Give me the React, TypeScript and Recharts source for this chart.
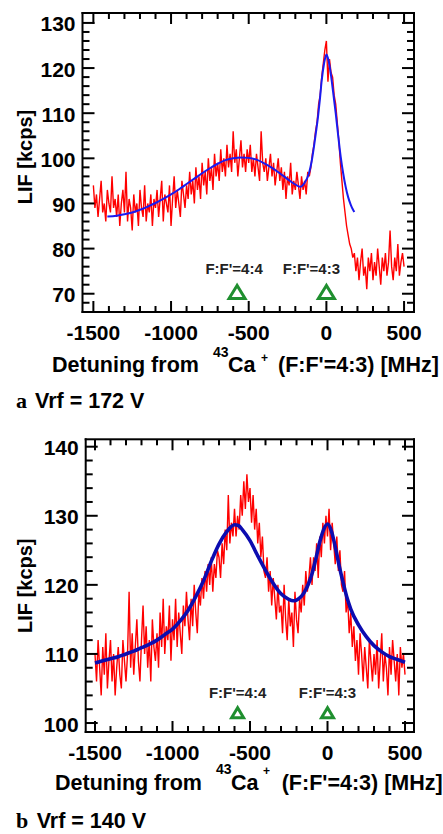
import React from 'react';
import { ComposedChart, Line, Scatter, XAxis, YAxis, Label } from 'recharts';

const FONT = '"Liberation Sans", Arial, Helvetica, sans-serif';

// ---------- tick values ----------
const X_TICKS_MAJOR = [-1500, -1000, -500, 0, 500];
const X_TICKS_ALL = [
  -1500, -1400, -1300, -1200, -1100, -1000, -900, -800, -700, -600, -500,
  -400, -300, -200, -100, 0, 100, 200, 300, 400, 500,
];
const Y_TICKS_MAJOR_A = [70, 80, 90, 100, 110, 120, 130];
const Y_TICKS_ALL_A = [
  68, 70, 72, 74, 76, 78, 80, 82, 84, 86, 88, 90, 92, 94, 96, 98, 100, 102, 104,
  106, 108, 110, 112, 114, 116, 118, 120, 122, 124, 126, 128, 130,
];
const Y_TICKS_MAJOR_B = [100, 110, 120, 130, 140];
const Y_TICKS_ALL_B = [
  100, 102, 104, 106, 108, 110, 112, 114, 116, 118, 120, 122, 124, 126, 128,
  130, 132, 134, 136, 138, 140,
];

// ---------- panel a (Vrf = 172 V) ----------
const RED_A_START = -1500;
const RED_STEP = 10;
const RED_A = [
  94, 89, 92, 87, 91, 95, 88, 90, 86, 93, 90, 88, 96, 89, 91, 87, 92, 85, 90, 93,
  88, 97, 86, 91, 89, 84, 92, 88, 90, 85, 93, 89, 87, 94, 86, 90, 88, 92, 85, 91,
  89, 93, 87, 91, 95, 86, 92, 90, 88, 94, 85, 91, 96, 89, 93, 90, 87, 95, 92, 89,
  94, 91, 97, 92, 95, 90, 98, 93, 96, 91, 99, 94, 97, 92, 100, 95, 98, 93, 101, 96,
  99, 95, 102, 97, 100, 96, 103, 98, 101, 97, 106, 99, 102, 96, 100, 104, 98, 101, 97, 102,
  99, 103, 97, 100, 96, 101, 98, 95, 106, 99, 97, 100, 95, 98, 101, 96, 99, 94, 97, 100,
  95, 98, 93, 97, 91, 96, 94, 99, 92, 95, 93, 97, 94, 91, 96, 93, 95, 92, 97, 96,
  98, 101, 103, 106, 108, 112, 114, 118, 121, 124, 126, 117, 122, 119, 118, 114, 112, 108, 104, 99,
  95, 91, 88, 85, 83, 81, 80, 78, 79, 75, 78, 73, 77, 80, 74, 76, 71, 78, 75, 79,
  73, 77, 74, 80, 76, 72, 78, 75, 79, 74, 77, 84, 76, 73, 78, 75, 81, 74, 77, 79,
  76,
];
const FIT_A_X = [
  -1410, -1350, -1300, -1250, -1200, -1150, -1100, -1050, -1000, -950, -900, -850,
  -800, -750, -700, -650, -600, -550, -500, -450, -400, -350, -300, -250, -200,
  -170, -140, -112, -95, -80, -67, -54, -42, -30, -15, 0, 10, 20, 28, 44, 60, 76,
  92, 108, 124, 140, 157, 170, 180,
];
const FIT_A_Y = [
  87.1, 87.3, 87.6, 88.0, 88.6, 89.3, 90.1, 91.0, 92.0, 93.1, 94.3, 95.5,
  96.7, 97.8, 98.8, 99.6, 100.0, 100.2, 100.1, 99.7, 98.9, 97.9, 96.7, 95.4, 94.2,
  93.7, 94.6, 96.7, 99.3, 102.6, 105.8, 109.2, 113.0, 117.3, 121.0, 123.0, 122.2, 120.6, 118.8, 114.5, 110.0, 105.0,
  100.4, 96.7, 93.7, 91.4, 89.7, 88.7, 88.1,
];
const LINES_A_X = [-575, 0];
const LINES_A_Y = [70.4, 70.4];

// ---------- panel b (Vrf = 140 V) ----------
const RED_B_START = -1500;
const RED_B = [
  110, 106, 112, 108, 104, 111, 107, 113, 105, 109, 112, 106, 110, 104, 108, 111, 107, 105, 112, 109,
  106, 110, 119, 108, 113, 107, 111, 115, 109, 106, 112, 117, 110, 114, 108, 112, 106, 115, 111, 109,
  113, 108, 116, 111, 118, 110, 114, 112, 117, 109, 115, 112, 118, 111, 116, 113, 110, 117, 114, 119,
  115, 112, 118, 114, 120, 116, 113, 119, 117, 121, 118, 122, 119, 123, 120, 124, 119, 123, 121, 125,
  124, 121, 126, 123, 128, 125, 133, 126, 129, 127, 131, 127, 130, 128, 133, 130, 135, 131, 136, 132,
  134, 129, 133, 128, 131, 126, 129, 124, 127, 122, 121, 124, 119, 122, 117, 121, 118, 115, 120, 116,
  117, 113, 120, 115, 112, 118, 114, 116, 111, 119, 115, 113, 118, 116, 120, 117, 122, 119, 121, 124,
  120, 124, 122, 126, 121, 127, 124, 129, 126, 130, 127, 131, 125, 129, 126, 123, 127, 122, 125, 120,
  119, 122, 116, 118, 113, 116, 111, 114, 109, 112, 107, 113, 110, 106, 111, 108, 105, 112, 109, 106,
  110, 107, 112, 105, 109, 113, 106, 110, 108, 104, 111, 107, 112, 109, 106, 110, 104, 111, 108, 110,
  107,
];
const FIT_B_X = [
  -1500, -1450, -1400, -1350, -1300, -1250, -1200, -1150, -1100, -1050, -1000,
  -950, -900, -850, -800, -750, -700, -650, -600, -575, -550, -500, -450, -400,
  -350, -300, -250, -220, -200, -150, -100, -75, -50, -25, 0, 25, 50, 75, 100,
  125, 150, 200, 250, 300, 350, 400, 450, 500,
];
const FIT_B_Y = [
  108.7, 109.0, 109.3, 109.6, 110.0, 110.4, 110.9, 111.4, 112.0, 112.8, 113.6,
  114.8, 116.3, 118.3, 120.6, 123.4, 125.9, 127.7, 128.7, 128.6, 128.0, 126.4, 124.2, 122.1,
  120.2, 118.7, 117.9, 117.7, 117.8, 118.9, 121.6, 123.8, 126.2, 128.0, 128.8, 127.8, 125.5, 122.8, 120.4,
  118.2, 116.5, 114.2, 112.5, 111.2, 110.3, 109.6, 109.2, 108.8,
];
const LINES_B_X = [-580, 0];
const LINES_B_Y = [101.5, 101.5];

const LINE_LABELS = ["F:F'=4:4", "F:F'=4:3"];

// ---------- helpers ----------
type Pt = { x: number; y: number; label?: string };
type FrameMark = { x: number; y: number; kind: 'b' | 't' | 'l' | 'r' | 'box'; major: boolean };
const gridSeries = (start: number, step: number, ys: number[]): Pt[] =>
  ys.map((y, i) => ({ x: start + i * step, y }));
const pairSeries = (xs: number[], ys: number[], labels?: string[]): Pt[] =>
  xs.map((x, i) => ({ x, y: ys[i], label: labels ? labels[i] : undefined }));

const CHART_W = 443;
const MARGIN_RIGHT = 29;
const X_AXIS_H = 68;
const INK = '#000';
const T = 2; // frame / tick thickness (px)

// Anchors for the box and the inward ticks on all four sides (placed through the chart scales).
const buildFrameMarks = (xd: [number, number], yd: [number, number], yTicks: number[], yMajors: number[]): FrameMark[] => {
  const [x0, x1] = xd;
  const [y0, y1] = yd;
  const out: FrameMark[] = [{ x: x0, y: y1, kind: 'box', major: true }];
  X_TICKS_ALL.forEach((v) => {
    const m = X_TICKS_MAJOR.includes(v);
    out.push({ x: v, y: y0, kind: 'b', major: m }, { x: v, y: y1, kind: 't', major: m });
  });
  yTicks.forEach((v) => {
    const m = yMajors.includes(v);
    out.push({ x: x0, y: v, kind: 'l', major: m }, { x: x1, y: v, kind: 'r', major: m });
  });
  return out;
};

const makeFrameShape = (plotW: number, plotH: number) => (props: any) => {
  const cx = Number(props.cx);
  const cy = Number(props.cy);
  const p = props.payload as FrameMark;
  if (!p || !isFinite(cx) || !isFinite(cy)) return <g />;
  const h = T / 2;
  if (p.kind === 'box') {
    return (
      <g fill={INK}>
        <rect x={cx - h} y={cy - h} width={plotW + T} height={T} />
        <rect x={cx - h} y={cy + plotH - h} width={plotW + T} height={T} />
        <rect x={cx - h} y={cy - h} width={T} height={plotH + T} />
        <rect x={cx + plotW - h} y={cy - h} width={T} height={plotH + T} />
      </g>
    );
  }
  const xl = p.major ? 11 : 6;
  const yl = p.major ? 12 : 7;
  if (p.kind === 'b') return <rect x={cx - h} y={cy - xl} width={T} height={xl} fill={INK} />;
  if (p.kind === 't') return <rect x={cx - h} y={cy} width={T} height={xl} fill={INK} />;
  if (p.kind === 'l') return <rect x={cx} y={cy - h} width={yl} height={T} fill={INK} />;
  return <rect x={cx - yl} y={cy - h} width={yl} height={T} fill={INK} />;
};

const xTickLabel = (props: any) => {
  const x = Number(props.x);
  const y = Number(props.y);
  const v = props.payload.value;
  if (!X_TICKS_MAJOR.includes(v)) return <g />;
  return (
    <text x={x} y={y + 20} textAnchor="middle" dominantBaseline="central"
      fontFamily={FONT} fontWeight="bold" fontSize={21} fill="#000">{v}</text>
  );
};

const makeYTickLabel = (majors: number[]) => (props: any) => {
  const x = Number(props.x);
  const y = Number(props.y);
  const v = props.payload.value;
  if (!majors.includes(v)) return <g />;
  return (
    <text x={x - 7} y={y + 1} textAnchor="end" dominantBaseline="central"
      fontFamily={FONT} fontWeight="bold" fontSize={21} fill="#000">{v}</text>
  );
};

const makeMarker = (w: number, h: number, labelDy: number, labelDx: Record<string, number>) =>
  (props: any) => {
    const cx = Number(props.cx);
    const cy = Number(props.cy);
    if (!isFinite(cx) || !isFinite(cy)) return <g />;
    const lab = props.payload && props.payload.label ? props.payload.label : '';
    const dx = labelDx[lab] || 0;
    return (
      <g>
        <polygon
          points={`${cx},${cy - h / 2} ${cx - w / 2},${cy + h / 2} ${cx + w / 2},${cy + h / 2}`}
          fill="#fff" stroke="#1f8f2f" strokeWidth={3} />
        <text x={cx + dx} y={cy + labelDy} textAnchor="middle" dominantBaseline="central"
          fontFamily={FONT} fontWeight="bold" fontSize={15} fill="#222">{lab}</text>
      </g>
    );
  };

type PanelCfg = {
  top: number;
  height: number;
  plotTop: number;
  yAxisWidth: number;
  xDomain: [number, number];
  yDomain: [number, number];
  yTicks: number[];
  yMajors: number[];
  red: Pt[];
  fit: Pt[];
  marks: Pt[];
  fitColor: string;
  fitWidth: number;
  marker: (p: any) => any;
  xTitle: { x0: number; base: number; supX: number; supBase: number; caX: number; plusX: number; plusBase: number; restX: number };
  yTitle: { cx: number; cy: number };
};

const XTitle = ({ t }: { t: PanelCfg['xTitle'] }) => (
  <g fontFamily={FONT} fontWeight="bold" fill="#000">
    <text x={t.x0} y={t.base} fontSize={21.5}>Detuning from</text>
    <text x={t.supX} y={t.supBase} fontSize={14}>43</text>
    <text x={t.caX} y={t.base} fontSize={21.5}>Ca</text>
    <text x={t.plusX} y={t.plusBase} fontSize={12}>+</text>
    <text x={t.restX} y={t.base} fontSize={21.5}>(F:F'=4:3) [MHz]</text>
  </g>
);

const YTitle = ({ t }: { t: PanelCfg['yTitle'] }) => (
  <text x={t.cx} y={t.cy} transform={`rotate(-90 ${t.cx} ${t.cy})`} textAnchor="middle"
    dominantBaseline="central" fontFamily={FONT} fontWeight="bold" fontSize={20} fill="#000">
    LIF [kcps]
  </text>
);

const Panel = ({ cfg }: { cfg: PanelCfg }) => {
  const plotW = CHART_W - MARGIN_RIGHT - cfg.yAxisWidth;
  const plotH = cfg.height - X_AXIS_H - cfg.plotTop;
  const frameMarks = buildFrameMarks(cfg.xDomain, cfg.yDomain, cfg.yTicks, cfg.yMajors);
  const frameShape = makeFrameShape(plotW, plotH);

  return (
    <div style={{ position: 'absolute', left: 0, top: cfg.top, width: CHART_W, height: cfg.height }}>
      <ComposedChart width={CHART_W} height={cfg.height}
        margin={{ top: cfg.plotTop, right: MARGIN_RIGHT, bottom: 0, left: 0 }}>
        <XAxis xAxisId="b" type="number" dataKey="x" domain={cfg.xDomain}
          ticks={X_TICKS_ALL} interval={0} tickSize={0} tickMargin={0} tickLine={false}
          axisLine={false} height={X_AXIS_H} tick={xTickLabel}>
          <Label content={() => <XTitle t={cfg.xTitle} />} />
        </XAxis>
        <YAxis yAxisId="l" type="number" domain={cfg.yDomain}
          ticks={cfg.yTicks} interval={0} tickSize={0} tickMargin={0} tickLine={false}
          axisLine={false} width={cfg.yAxisWidth} tick={makeYTickLabel(cfg.yMajors)}>
          <Label content={() => <YTitle t={cfg.yTitle} />} />
        </YAxis>
        <Line xAxisId="b" yAxisId="l" data={cfg.red} dataKey="y" type="linear" stroke="#ff0000"
          strokeWidth={1.4} dot={false} activeDot={false} isAnimationActive={false} />
        <Line xAxisId="b" yAxisId="l" data={cfg.fit} dataKey="y" type="monotone" stroke={cfg.fitColor}
          strokeWidth={cfg.fitWidth} dot={false} activeDot={false} isAnimationActive={false} />
        <Scatter xAxisId="b" yAxisId="l" data={cfg.marks} dataKey="y" shape={cfg.marker}
          isAnimationActive={false} />
        <Scatter xAxisId="b" yAxisId="l" data={frameMarks} dataKey="y" shape={frameShape}
          isAnimationActive={false} />
      </ComposedChart>
    </div>
  );
};

const panelA: PanelCfg = {
  top: 0,
  height: 380,
  plotTop: 13,
  yAxisWidth: 82.5,
  xDomain: [-1570, 564],
  yDomain: [65.95, 132.2],
  yTicks: Y_TICKS_ALL_A,
  yMajors: Y_TICKS_MAJOR_A,
  red: gridSeries(RED_A_START, RED_STEP, RED_A),
  fit: pairSeries(FIT_A_X, FIT_A_Y),
  marks: pairSeries(LINES_A_X, LINES_A_Y, LINE_LABELS),
  fitColor: '#1a1af0',
  fitWidth: 2,
  marker: makeMarker(16, 13, -23, { "F:F'=4:4": -3, "F:F'=4:3": -15 }),
  xTitle: { x0: 52, base: 372, supX: 213, supBase: 357, caX: 228, plusX: 261, plusBase: 362, restX: 278 },
  yTitle: { cx: 25, cy: 157 },
};

const panelB: PanelCfg = {
  top: 420,
  height: 380,
  plotTop: 19.3,
  yAxisWidth: 85.7,
  xDomain: [-1560, 558],
  yDomain: [98.7, 141.07],
  yTicks: Y_TICKS_ALL_B,
  yMajors: Y_TICKS_MAJOR_B,
  red: gridSeries(RED_B_START, RED_STEP, RED_B),
  fit: pairSeries(FIT_B_X, FIT_B_Y),
  marks: pairSeries(LINES_B_X, LINES_B_Y, LINE_LABELS),
  fitColor: '#0c0cb0',
  fitWidth: 3.6,
  marker: makeMarker(12, 10, -20, {}),
  xTitle: { x0: 55, base: 370, supX: 216, supBase: 354, caX: 231, plusX: 263, plusBase: 355, restX: 281.7 },
  yTitle: { cx: 25, cy: 165.7 },
};

export default function App() {
  return (
    <div style={{ position: 'absolute', left: 0, top: 0, width: 443, height: 834, background: '#fff' }}>
      <Panel cfg={panelA} />
      <Panel cfg={panelB} />
      <svg width={443} height={834} style={{ position: 'absolute', left: 0, top: 0, pointerEvents: 'none' }}>
        <text x={16} y={408} fontFamily='"Liberation Serif", "Times New Roman", serif' fontWeight="bold" fontSize={22} fill="#000">a</text>
        <text x={35} y={408} fontFamily={FONT} fontWeight="bold" fontSize={21.5} fill="#000">Vrf = 172 V</text>
        <text x={16} y={828} fontFamily='"Liberation Serif", "Times New Roman", serif' fontWeight="bold" fontSize={22} fill="#000">b</text>
        <text x={36.7} y={828} fontFamily={FONT} fontWeight="bold" fontSize={21.5} fill="#000">Vrf = 140 V</text>
      </svg>
    </div>
  );
}
